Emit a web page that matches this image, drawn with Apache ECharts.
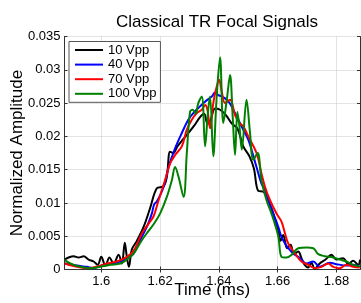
<!DOCTYPE html>
<html><head><meta charset="utf-8">
<script src="https://cdn.jsdelivr.net/npm/echarts@6/dist/echarts.min.js"></script>
<style>html,body{margin:0;padding:0;background:#fff}#c{width:361px;height:303px}</style>
</head><body><div id="c"></div>
<script>
const xTicks = [1.6, 1.62, 1.64, 1.66, 1.68];
const seriesNames = ['10 Vpp', '40 Vpp', '70 Vpp', '100 Vpp'];

const t10 = [1.5876,1.5889,1.5906,1.5923,1.5940,1.5957,1.5974,1.5988,1.6000,1.6014,1.6028,1.6042,1.6059,1.6070,1.6080,1.6087,1.6094,1.6104,1.6121,1.6144,1.6166,1.6189,1.6212,1.6223,1.6234,1.6245,1.6259,1.6277,1.6296,1.6316,1.6336,1.6350,1.6361,1.6372,1.6387,1.6404,1.6424,1.6444,1.6463,1.6483,1.6504,1.6519,1.6534,1.6551,1.6568,1.6585,1.6602,1.6610,1.6619,1.6632,1.6644,1.6655,1.6670,1.6681,1.6692,1.6704,1.6715,1.6726,1.6743,1.6763,1.6783,1.6800,1.6823,1.6840,1.6857,1.6874,1.6880];
const v10 = [0.0015,0.0018,0.0020,0.0018,0.0020,0.0015,0.0012,0.0007,0.0019,0.0006,0.0018,0.0009,0.0022,0.0009,0.0040,0.0019,0.0004,0.0030,0.0043,0.0064,0.0092,0.0122,0.0125,0.0139,0.0177,0.0175,0.0185,0.0195,0.0205,0.0216,0.0229,0.0234,0.0219,0.0225,0.0242,0.0240,0.0232,0.0219,0.0212,0.0185,0.0170,0.0152,0.0118,0.0117,0.0104,0.0084,0.0059,0.0043,0.0052,0.0032,0.0037,0.0023,0.0027,0.0017,0.0007,0.0003,0.0010,0.0001,0.0009,0.0015,0.0022,0.0015,0.0017,0.0008,0.0013,0.0007,0.0015];

const t40 = [1.5876,1.5917,1.5951,1.5974,1.6008,1.6042,1.6076,1.6110,1.6132,1.6155,1.6172,1.6180,1.6189,1.6212,1.6229,1.6251,1.6274,1.6296,1.6313,1.6336,1.6353,1.6376,1.6387,1.6398,1.6410,1.6427,1.6438,1.6449,1.6466,1.6483,1.6500,1.6511,1.6528,1.6545,1.6557,1.6568,1.6585,1.6602,1.6613,1.6625,1.6636,1.6653,1.6676,1.6698,1.6721,1.6743,1.6777,1.6800,1.6834,1.6857,1.6879];
const v40 = [0.0009,0.0006,0.0004,0.0002,0.0007,0.0009,0.0014,0.0024,0.0044,0.0064,0.0084,0.0098,0.0102,0.0124,0.0154,0.0182,0.0205,0.0225,0.0235,0.0245,0.0252,0.0260,0.0266,0.0262,0.0260,0.0255,0.0249,0.0240,0.0225,0.0210,0.0195,0.0180,0.0154,0.0129,0.0119,0.0104,0.0084,0.0064,0.0049,0.0039,0.0032,0.0024,0.0017,0.0009,0.0012,0.0004,0.0010,0.0008,0.0006,0.0007,0.0004];

const t70 = [1.5876,1.5917,1.5951,1.5985,1.6019,1.6053,1.6087,1.6110,1.6138,1.6161,1.6178,1.6195,1.6217,1.6234,1.6251,1.6274,1.6291,1.6308,1.6325,1.6342,1.6353,1.6361,1.6370,1.6381,1.6390,1.6401,1.6410,1.6421,1.6438,1.6455,1.6470,1.6483,1.6500,1.6528,1.6545,1.6557,1.6574,1.6596,1.6613,1.6625,1.6636,1.6659,1.6681,1.6704,1.6726,1.6749,1.6772,1.6789,1.6811,1.6834,1.6857,1.6879];
const v70 = [0.0009,0.0004,0.0002,0.0004,0.0009,0.0012,0.0019,0.0028,0.0054,0.0069,0.0080,0.0104,0.0134,0.0159,0.0172,0.0185,0.0210,0.0225,0.0235,0.0240,0.0247,0.0240,0.0212,0.0250,0.0270,0.0285,0.0267,0.0250,0.0255,0.0232,0.0220,0.0215,0.0200,0.0175,0.0144,0.0124,0.0104,0.0084,0.0072,0.0054,0.0039,0.0024,0.0012,0.0007,0.0002,0.0004,0.0009,0.0004,0.0002,0.0007,0.0004,0.0003];

const t100 = [1.5876,1.5895,1.5929,1.5963,1.5997,1.6031,1.6065,1.6087,1.6110,1.6138,1.6161,1.6178,1.6200,1.6223,1.6240,1.6251,1.6263,1.6280,1.6291,1.6302,1.6311,1.6321,1.6330,1.6342,1.6353,1.6363,1.6370,1.6381,1.6392,1.6404,1.6415,1.6427,1.6438,1.6447,1.6455,1.6463,1.6470,1.6478,1.6494,1.6506,1.6517,1.6532,1.6545,1.6562,1.6579,1.6602,1.6613,1.6630,1.6647,1.6670,1.6698,1.6721,1.6738,1.6760,1.6789,1.6811,1.6834,1.6857,1.6879];
const v100 = [0.0014,0.0009,0.0004,0.0002,0.0004,0.0007,0.0009,0.0015,0.0024,0.0044,0.0058,0.0068,0.0084,0.0109,0.0134,0.0154,0.0139,0.0109,0.0175,0.0237,0.0240,0.0234,0.0250,0.0260,0.0185,0.0237,0.0260,0.0170,0.0255,0.0319,0.0220,0.0255,0.0292,0.0230,0.0172,0.0237,0.0215,0.0180,0.0255,0.0205,0.0165,0.0175,0.0134,0.0104,0.0084,0.0050,0.0019,0.0018,0.0022,0.0032,0.0033,0.0032,0.0023,0.0020,0.0018,0.0015,0.0012,0.0007,0.0005];

const colors = ['#000000', '#0000ff', '#ff0000', '#008000'];
const times = [t10, t40, t70, t100];
const values = [v10, v40, v70, v100];

const chart = echarts.init(document.getElementById('c'), null, {renderer: 'canvas'});
const FONT = 'Liberation Sans';
const frameColor = '#333';
const gridLine = {show: true, lineStyle: {type: 'dotted', color: '#c8c8c8', width: 1}};

chart.setOption({
  animation: false,
  backgroundColor: '#fff',
  title: {
    text: 'Classical TR Focal Signals',
    left: 212, top: 9, textAlign: 'center',
    textStyle: {fontFamily: FONT, fontSize: 17, fontWeight: 'normal', color: '#000'}
  },
  grid: {left: 64.5, right: 1, top: 36.5, bottom: 33.5, containLabel: false, outerBoundsMode: 'none'},
  legend: {
    orient: 'vertical', left: 69, top: 41.5,
    data: seriesNames,
    icon: 'path://M0 0H28V2H0Z',
    itemWidth: 28, itemHeight: 14, itemGap: 1.6,
    padding: [2, 4, 2, 6],
    backgroundColor: '#fff', borderColor: '#555', borderWidth: 1,
    itemStyle: {borderWidth: 0},
    textStyle: {fontFamily: FONT, fontSize: 13, color: '#000'}
  },
  xAxis: [{
    type: 'value', min: 1.5875, max: 1.688,
    name: 'Time (ms)', nameLocation: 'middle', nameGap: 12, nameMoveOverlap: false,
    nameTextStyle: {fontFamily: FONT, fontSize: 17, color: '#000'},
    axisLine: {show: true, lineStyle: {color: frameColor}},
    axisTick: {show: true, inside: true, length: 3, customValues: xTicks, lineStyle: {color: frameColor}},
    axisLabel: {customValues: xTicks, fontFamily: FONT, fontSize: 13, color: '#000', margin: 5,
      formatter: v => String(parseFloat(v.toFixed(3)))},
    splitLine: gridLine
  }, {
    type: 'value', min: 1.5875, max: 1.688, position: 'top',
    axisLine: {show: true, lineStyle: {color: frameColor}},
    axisTick: {show: true, inside: true, length: 3, customValues: xTicks, lineStyle: {color: frameColor}},
    axisLabel: {show: false}, splitLine: {show: false}
  }],
  yAxis: [{
    type: 'value', min: 0, max: 0.035, interval: 0.005,
    name: 'Normalized Amplitude', nameLocation: 'middle', nameGap: 39, nameMoveOverlap: false,
    nameTextStyle: {fontFamily: FONT, fontSize: 17, color: '#000'},
    axisLine: {show: true, lineStyle: {color: frameColor}},
    axisTick: {show: true, inside: true, length: 3, lineStyle: {color: frameColor}},
    axisLabel: {fontFamily: FONT, fontSize: 13, color: '#000', margin: 4,
      formatter: v => String(parseFloat(v.toFixed(3)))},
    splitLine: gridLine
  }, {
    type: 'value', min: 0, max: 0.035, interval: 0.005, position: 'right',
    axisLine: {show: true, lineStyle: {color: frameColor}},
    axisTick: {show: true, inside: true, length: 3, lineStyle: {color: frameColor}},
    axisLabel: {show: false}, splitLine: {show: false}
  }],
  series: seriesNames.map((name, k) => ({
    name, type: 'line', xAxisIndex: 0, yAxisIndex: 0,
    data: times[k].map((t, i) => [t, values[k][i]]),
    symbol: 'none', smooth: 0.35,
    lineStyle: {width: 2, color: colors[k]},
    itemStyle: {color: colors[k]},
    z: 2 + k
  }))
});
</script>
</body></html>
